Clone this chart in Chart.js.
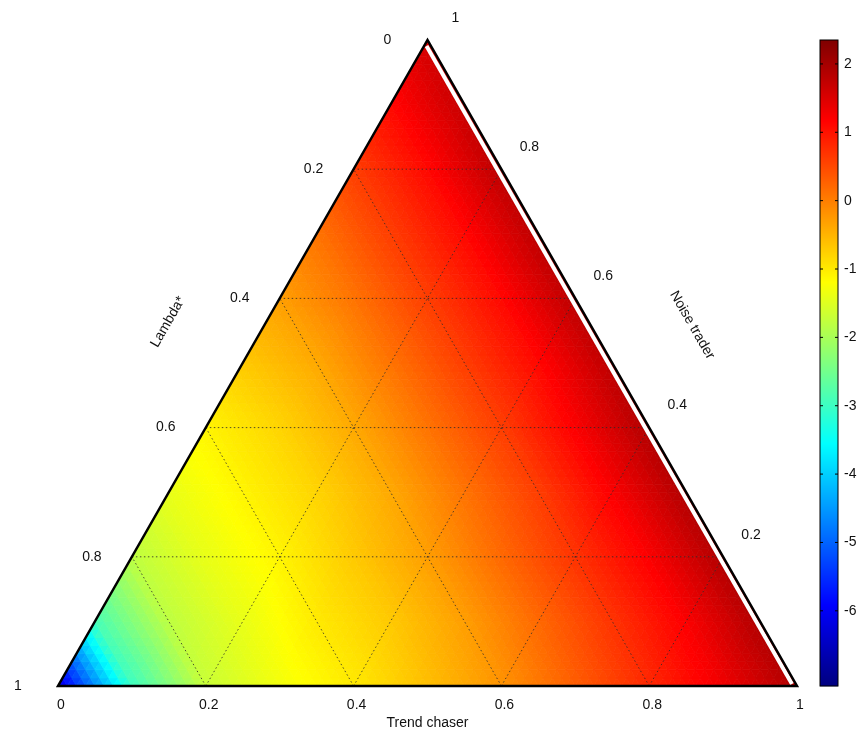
<!DOCTYPE html>
<html>
<head>
<meta charset="utf-8">
<script src="https://cdn.jsdelivr.net/npm/chart.js@4"></script>
<style>
  html, body { margin: 0; padding: 0; background: #fff; }
  #wrap { width: 863px; height: 732px; }
</style>
</head>
<body>
<div id="wrap"><canvas id="ternary"></canvas></div>
<script>
// grid step 0.1; rows are Noise trader share n = 0..1, entries are Trend chaser share t = 0..1-n
const step = 0.1;
const rows = [
    [-6.3, -3.0, -1.7, -1.3, -1.0, -0.6, -0.2, 0.3, 0.8, 1.3, 1.9],
    [-2.9, -1.8, -1.4, -1.0, -0.7, -0.3, 0.2, 0.7, 1.2, 1.9],
    [-1.8, -1.4, -1.1, -0.7, -0.3, 0.2, 0.7, 1.2, 1.9],
    [-1.4, -1.1, -0.8, -0.4, 0.1, 0.6, 1.2, 1.9],
    [-1.1, -0.8, -0.4, 0.1, 0.6, 1.2, 1.9],
    [-0.7, -0.4, 0.1, 0.6, 1.1, 1.8],
    [-0.3, 0.1, 0.6, 1.1, 1.8],
    [0.1, 0.6, 1.1, 1.8],
    [0.6, 1.1, 1.8],
    [1.1, 1.7],
    [1.6]
];
const axisTicks = [0, 0.2, 0.4, 0.6, 0.8, 1];
const tickLabels = ['0', '0.2', '0.4', '0.6', '0.8', '1'];
const colorTicks = [2, 1, 0, -1, -2, -3, -4, -5, -6];
const cMin = -7.1, cMax = 2.35;
const H = Math.sqrt(3) / 2;

function jet(v) {
    let s = (v - cMin) / (cMax - cMin);
    s = Math.max(0, Math.min(1, s));
    const f = x => Math.round(255 * Math.max(0, Math.min(1, 1.5 - Math.abs(4 * s - x))));
    return `rgb(${f(3)},${f(2)},${f(1)})`;
}

// value at (t, n) from the grid, linear within the containing grid triangle
function valueAt(t, n) {
    const N = rows.length - 1;
    let i = Math.min(Math.floor(n / step + 1e-9), N);
    let j = Math.floor(t / step + 1e-9);
    if (i + j > N) j = N - i;
    const a = n / step - i, b = t / step - j;
    const get = (r, c) => rows[r][c];
    if (i + j >= N) return get(i, j);
    if (a + b <= 1) {
        return get(i, j) * (1 - a - b) + get(i + 1, j) * a + get(i, j + 1) * b;
    }
    return get(i + 1, j + 1) * (a + b - 1) + get(i + 1, j) * (1 - b) + get(i, j + 1) * (1 - a);
}

function toXY(t, n) { return { x: t + n / 2, y: n * H }; }

const points = [];
rows.forEach((r, i) => r.forEach((v, j) => points.push(toXY(j * step, i * step))));

const ternaryPlugin = {
    id: 'ternary',
    beforeDatasetsDraw(chart) {
        const ctx = chart.ctx, xs = chart.scales.x, ys = chart.scales.y;
        const P = (t, n) => { const p = toXY(t, n); return [xs.getPixelForValue(p.x), ys.getPixelForValue(p.y)]; };
        const M = 80, d = 1 / M;
        ctx.save();
        for (let i = 0; i < M; i++) {
            for (let j = 0; j < M - i; j++) {
                const tris = [[[j, i], [j + 1, i], [j, i + 1]]];
                if (i + j < M - 1) tris.push([[j + 1, i], [j + 1, i + 1], [j, i + 1]]);
                tris.forEach(tr => {
                    const ct = (tr[0][0] + tr[1][0] + tr[2][0]) / 3 * d;
                    const cn = (tr[0][1] + tr[1][1] + tr[2][1]) / 3 * d;
                    ctx.fillStyle = jet(valueAt(ct, cn));
                    ctx.strokeStyle = ctx.fillStyle;
                    ctx.lineWidth = 0.8;
                    ctx.beginPath();
                    tr.forEach((q, k) => { const p = P(q[0] * d, q[1] * d); k ? ctx.lineTo(p[0], p[1]) : ctx.moveTo(p[0], p[1]); });
                    ctx.closePath();
                    ctx.fill();
                    ctx.stroke();
                });
            }
        }
        // dotted grid
        ctx.strokeStyle = 'rgba(40,40,40,0.8)';
        ctx.lineWidth = 1;
        ctx.setLineDash([1.5, 2.5]);
        [0.2, 0.4, 0.6, 0.8].forEach(v => {
            [[P(0, v), P(1 - v, v)], [P(v, 0), P(v, 1 - v)], [P(1 - v, 0), P(0, 1 - v)]].forEach(s => {
                ctx.beginPath(); ctx.moveTo(s[0][0], s[0][1]); ctx.lineTo(s[1][0], s[1][1]); ctx.stroke();
            });
        });
        ctx.setLineDash([]);
        // edges
        const A = P(0, 0), B = P(1, 0), C = P(0, 1);
        ctx.strokeStyle = '#fff';
        ctx.lineWidth = 4;
        ctx.beginPath(); ctx.moveTo(B[0] - 5, B[1] - 2); ctx.lineTo(C[0] - 1, C[1] + 6); ctx.stroke();
        ctx.strokeStyle = '#000';
        ctx.lineWidth = 2.5;
        ctx.beginPath(); ctx.moveTo(A[0], A[1]); ctx.lineTo(B[0], B[1]); ctx.lineTo(C[0], C[1]); ctx.closePath(); ctx.stroke();

        // tick labels
        ctx.fillStyle = '#111';
        ctx.font = '14px Helvetica, "Liberation Sans", Arial, sans-serif';
        ctx.textAlign = 'center';
        ctx.textBaseline = 'middle';
        axisTicks.forEach((v, k) => {
            const b = P(v, 0);
            ctx.fillText(tickLabels[k], b[0] + 3, b[1] + 19);
            const l = P(0, 1 - v);
            ctx.fillText(tickLabels[k], l[0] - 40, l[1]);
            const r = P(1 - v, v);
            ctx.fillText(tickLabels[k], r[0] + 28, r[1] - 22);
        });
        ctx.fillText('Trend chaser', xs.getPixelForValue(0.5), B[1] + 37);
        ctx.save();
        ctx.translate(xs.getPixelForValue(0.149), ys.getPixelForValue(0.488));
        ctx.rotate(-Math.PI / 3);
        ctx.fillText('Lambda*', 0, 0);
        ctx.restore();
        ctx.save();
        ctx.translate(xs.getPixelForValue(0.858), ys.getPixelForValue(0.484));
        ctx.rotate(Math.PI / 3);
        ctx.fillText('Noise trader', 0, 0);
        ctx.restore();

        // colorbar
        const cs = chart.scales.c;
        const x0 = 820, w = 18;
        const top = cs.getPixelForValue(cMax), bot = cs.getPixelForValue(cMin);
        for (let y = Math.floor(top); y < bot; y++) {
            ctx.fillStyle = jet(cs.getValueForPixel(y + 0.5));
            ctx.fillRect(x0, y, w, 1.2);
        }
        ctx.strokeStyle = '#000';
        ctx.lineWidth = 1;
        ctx.strokeRect(x0, top, w, bot - top);
        ctx.textAlign = 'left';
        ctx.fillStyle = '#111';
        colorTicks.forEach(v => {
            const y = cs.getPixelForValue(v);
            ctx.beginPath();
            ctx.moveTo(x0, y); ctx.lineTo(x0 + 3, y);
            ctx.moveTo(x0 + w, y); ctx.lineTo(x0 + w - 3, y);
            ctx.stroke();
            ctx.fillText(String(v), x0 + w + 6, y);
        });
        ctx.restore();
    }
};

new Chart(document.getElementById('ternary'), {
    type: 'scatter',
    data: { datasets: [{ data: points, pointRadius: 0, showLine: false }] },
    options: {
        responsive: true,
        maintainAspectRatio: false,
        animation: false,
        layout: { padding: { left: 58, right: 66, top: 40, bottom: 46 } },
        plugins: { legend: { display: false }, tooltip: { enabled: false } },
        scales: {
            x: { type: 'linear', min: 0, max: 1, display: false },
            y: { type: 'linear', min: 0, max: H, display: false },
            c: { type: 'linear', position: 'right', min: cMin, max: cMax, display: false }
        }
    },
    plugins: [ternaryPlugin]
});
</script>
</body>
</html>
